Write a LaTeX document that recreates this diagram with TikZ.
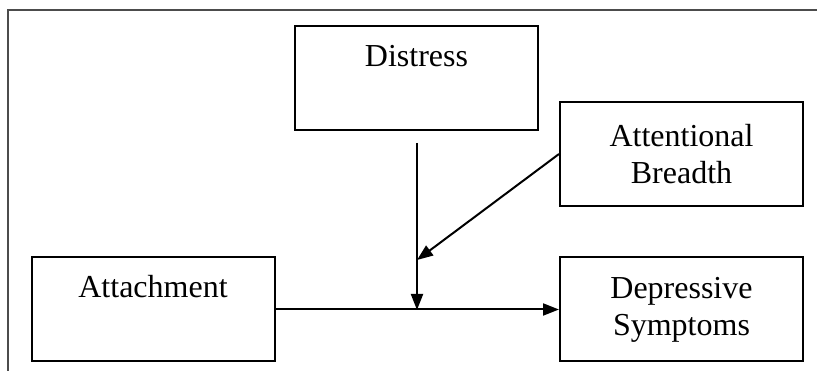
\documentclass[tikz,border=0pt]{standalone}
\usepackage{fontspec}
\setmainfont{Liberation Serif}
\usetikzlibrary{arrows.meta}

\tikzset{
	box/.style={draw, line width=2pt, rectangle, minimum width=243pt, minimum height=104pt, inner sep=0pt, align=center, font=\fontsize{32}{37}\selectfont},
	topbox/.style={box, text height=40pt, text depth=63pt},
	link/.style={line width=2pt, -{Triangle[length=16pt,width=12pt]}}
}

\begin{document}
	\begin{tikzpicture}[x=1pt,y=-1pt]
		\useasboundingbox (0,0) rectangle (817,371);
		\draw[gray!60!black, line width=1.2pt] (8,371) -- (8,10) -- (817,10);
		
		\node[topbox] (distress) at (416.5,78){Distress};
		\node[box] (breadth) at (681.5,154){Attentional\\Breadth};
		\node[topbox] (attach) at (153,309.5){Attachment};
		\node[box] (depress) at (681.5,309.5){Depressive\\Symptoms};
		
		\coordinate (vtop) at (417,143);
		\coordinate (vmid) at (417,310);
		\coordinate (vhit) at (417,260);
		
		\draw[link] (attach.east) -- (depress.west);
		\draw[link] (vtop) -- (vmid);
		\draw[link] (breadth.west) -- (vhit);
	\end{tikzpicture}
\end{document}
